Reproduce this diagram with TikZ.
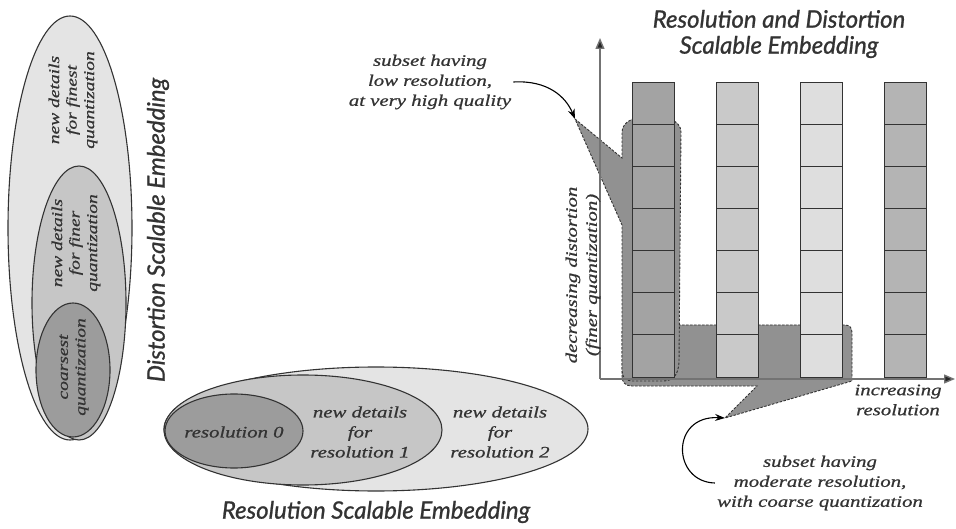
\documentclass[tikz,border=0pt]{standalone}
\usepackage{fontspec}
\setmainfont{Liberation Serif}
\newfontfamily\lblfont{Liberation Serif}[FakeStretch=1.3,FakeBold=0.8]
\newfontfamily\ttlfont{Lato}[FakeBold=1]
\usetikzlibrary{arrows.meta}

\definecolor{shellOuter}{HTML}{E4E4E4}
\definecolor{shellMid}{HTML}{C6C6C6}
\definecolor{shellCore}{HTML}{9C9C9C}
\definecolor{colA}{HTML}{A3A3A3}
\definecolor{colB}{HTML}{C9C9C9}
\definecolor{colC}{HTML}{DEDEDE}
\definecolor{colD}{HTML}{B4B4B4}
\definecolor{subsetfill}{HTML}{919191}
\definecolor{inkgray}{HTML}{333333}

\begin{document}
\begin{tikzpicture}[x=1pt,y=-1pt,
  lbl/.style={font=\lblfont\itshape\fontsize{16}{20}\selectfont, align=center, inner sep=0pt, text=inkgray},
  lblsmall/.style={font=\lblfont\itshape\fontsize{15}{17.5}\selectfont, align=center, inner sep=0pt, text=inkgray},
  ttl/.style={font=\ttlfont\itshape\fontsize{24}{26}\selectfont, align=center, inner sep=0pt, text=inkgray},
  ring/.style={draw=inkgray, line width=1.1pt},
  cell/.style={draw=inkgray, line width=1pt},
  region/.style={fill=subsetfill, draw=inkgray, line width=0.9pt, dash pattern=on 2.5pt off 1.5pt},
  axis/.style={draw=black!55, line width=1.4pt, -{Triangle[length=11pt,width=9pt,fill=black!85]}},
  callout/.style={draw=black, line width=1.1pt, -{Stealth[length=10pt,width=7pt]}}]
\useasboundingbox (0,0) rectangle (956,529);

% ---- distortion scalable embedding (nested vertical ellipses)
\draw[ring, fill=shellOuter] (70,228) ellipse [x radius=62, y radius=212];
\draw[ring, fill=shellMid]   (79,303) ellipse [x radius=47, y radius=137];
\draw[ring, fill=shellCore]  (73,370) ellipse [x radius=37, y radius=67];
\node[lblsmall, rotate=90] (dFine)   at (73,100) {new details\\for finest\\quantization};
\node[lblsmall, rotate=90] (dFiner)  at (76,243) {new details\\for finer\\quantization};
\node[lblsmall, rotate=90] (dCoarse) at (74,367) {coarsest\\quantization};
\node[ttl, rotate=90] (dTitle) at (158,230) {Distortion Scalable Embedding};

% ---- resolution scalable embedding (nested horizontal ellipses)
\draw[ring, fill=shellOuter] (376,429) ellipse [x radius=212, y radius=62];
\draw[ring, fill=shellMid]   (303,430) ellipse [x radius=139, y radius=55];
\draw[ring, fill=shellCore]  (234,431) ellipse [x radius=69, y radius=37];
\node[lbl] (r0) at (234,432) {resolution 0};
\node[lbl] (r1) at (360,432) {new details\\for\\resolution 1};
\node[lbl] (r2) at (500,432) {new details\\for\\resolution 2};
\node[ttl] (rTitle) at (376,512) {Resolution Scalable Embedding};

% ---- combined embedding: highlighted subsets
\coordinate (apexLow) at (575,119);
\coordinate (apexMod) at (725,418);
% moderate resolution, coarse quantization (bottom row)
\draw[region] (626,325) -- (845,325) .. controls (850,325) and (852,328) .. (852,333)
  -- (852,381) -- (apexMod) -- (757,386) -- (632,386)
  .. controls (625,386) and (622,382) .. (622,376) -- (622,330) -- cycle;
% low resolution, very high quality (first column)
\draw[region] (apexLow) -- (622,158) -- (622,132)
  .. controls (622,110) and (681,110) .. (681,132)
  -- (679,362) .. controls (678,377) and (672,381) .. (662,381)
  -- (632,381) .. controls (625,381) and (622,377) .. (622,370)
  -- (622,225) -- cycle;

% axes
\coordinate (orig) at (600,379);
\coordinate (yend) at (600,38);
\coordinate (xend) at (955,379);
\draw[axis] (orig) -- (yend);
\draw[axis] (orig) -- (xend);

% subband columns
\foreach \cx/\cc in {632/colA,716/colB,800/colC,884/colD}{
  \foreach \r in {0,...,6}{
    \draw[cell, fill=\cc] ({\cx},{83+42*\r}) rectangle ++(42,42);
  }
}

% labels
\node[ttl] (cTitle) at (779,34) {Resolution and Distortion\\Scalable Embedding};
\node[lbl] (xlab) at (898,400) {increasing\\resolution};
\node[lbl, rotate=90] (ylab) at (583,275) {decreasing distortion\\(finer quantization)};
\node[lbl] (lowNote) at (430,82) {subset having\\low resolution,\\at very high quality};
\node[lbl] (modNote) at (820,483) {subset having\\moderate resolution,\\with coarse quantization};

% callout arrows
\draw[callout] ([xshift=2pt]lowNote.east) .. controls (548,80) and (566,97) .. (apexLow);
\draw[callout] ([xshift=-2pt]modNote.west) .. controls (672,482) and (670,415) .. (apexMod);
\end{tikzpicture}
\end{document}
